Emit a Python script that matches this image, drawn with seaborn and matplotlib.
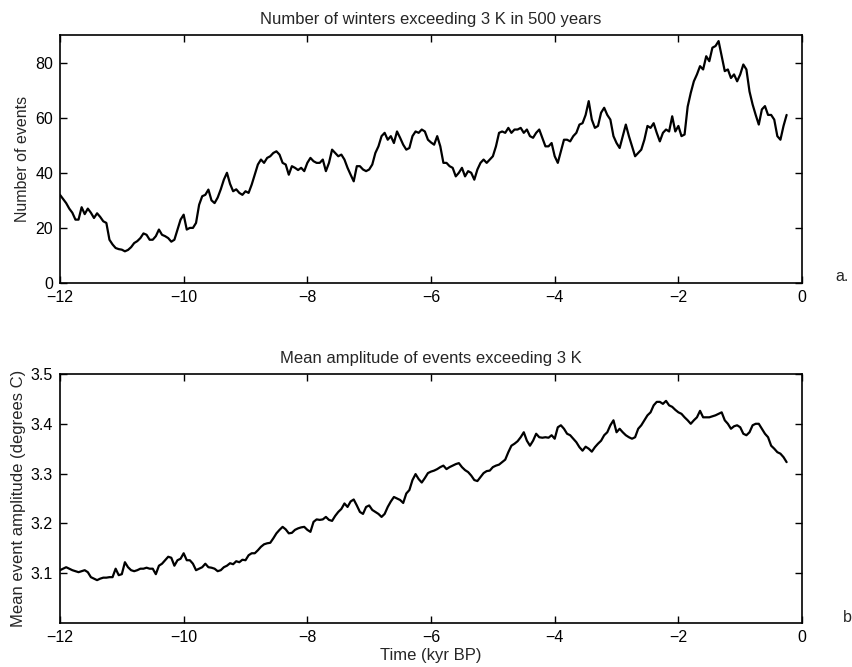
import numpy as np
import pandas as pd
import seaborn as sns
import matplotlib
matplotlib.use("Agg")
import matplotlib.pyplot as plt

# values, every 0.05 kyr from -12 kyr BP
events_a = [
    32, 30.5, 29, 27, 25.5, 23, 23, 27.5, 25, 27, 25.5, 23.6, 25.3, 24, 22.4, 21.8,
    15.7, 14, 12.7, 12.3, 12.1, 11.5, 12, 13, 14.5, 15.2, 16.3, 18, 17.5, 15.7,
    15.7, 17, 19.4, 17.5, 17, 16.3, 15, 15.7, 19.4, 23, 24.8, 19.4, 20, 20, 21.8,
    28.4, 31.5, 32, 33.9, 30, 29, 31, 34, 37.5, 40, 36, 33.3, 34, 32.7, 32, 33.3,
    32.7, 35.7, 39.3, 43, 44.8, 43.6, 45.4, 46, 47.2, 47.8, 46.6, 43.6, 43, 39.3,
    42.4, 41.8, 41, 41.8, 40.6, 43.6, 45.4, 44.2, 43.6, 43.6, 44.8, 40.6, 43.6,
    48.4, 47.2, 46, 46.6, 44.8, 41.8, 39.3, 36.9, 42.4, 42.4, 41.2, 40.6, 41.2,
    43, 47.2, 49.6, 53.3, 54.5, 52, 53.3, 50.8, 55, 52.7, 50.2, 48.4, 49, 53.3,
    55, 54.5, 55.7, 55, 52, 51,
    50.2, 53.3, 49.6, 43.6, 43.6, 42.4, 41.8, 38.7, 40, 41.8, 38.7, 40.6, 40,
    37.5, 41.2, 43.6, 44.8, 43.6, 44.8, 46, 49.6, 54.5, 55, 54.5, 56.3, 54.5,
    55.7, 55.7, 56.3, 54.5, 55.7, 53.3, 52.7, 54.5, 55.7, 52.7, 49.6, 49.6, 50.8,
    46, 43.6, 47.8, 52, 52, 51.4, 53.3, 54.5, 57.5, 58, 61, 66, 59.3, 56.3, 57,
    61.8, 63.6, 61, 59.3, 53.3, 50.8, 49, 53.3, 57.5, 53.3, 49.6, 46, 47.2, 48.4,
    52, 57, 56.3, 58, 54.5, 51.4, 54.5, 55.7, 55, 60.5, 55, 57, 53.3, 53.9, 64,
    69, 73.2, 75.7, 78.7, 77.5, 82.3, 80.5, 85.4, 86, 87.8, 82.3, 76.9, 77.5,
    74.4, 75.7, 73.2, 75.7, 79.3, 77.5, 69.5, 64.8, 61, 57.5, 63, 64.2, 61, 61,
    59.3, 53.3, 52, 57, 61,
]

amplitude_b = [
    3.106, 3.109, 3.112, 3.109, 3.106, 3.104, 3.102, 3.104, 3.106, 3.102, 3.092,
    3.089, 3.086, 3.089, 3.091, 3.091, 3.092, 3.092, 3.109, 3.096, 3.098, 3.122,
    3.112, 3.106, 3.104, 3.106, 3.109, 3.109, 3.111, 3.109, 3.109, 3.098, 3.115,
    3.119, 3.126, 3.133, 3.131, 3.115, 3.126, 3.129, 3.140, 3.126, 3.126, 3.119,
    3.106, 3.109, 3.112, 3.119, 3.112, 3.111, 3.109, 3.104, 3.106, 3.112, 3.115,
    3.120, 3.118, 3.124, 3.122, 3.127, 3.126, 3.136, 3.140, 3.140, 3.146, 3.153,
    3.158, 3.160, 3.161, 3.170, 3.180, 3.187, 3.193, 3.188, 3.180, 3.181, 3.187,
    3.190, 3.192, 3.193, 3.187, 3.183, 3.203, 3.208, 3.207, 3.208, 3.213, 3.207,
    3.205, 3.215, 3.223, 3.229, 3.240, 3.233, 3.244, 3.248, 3.236, 3.223, 3.219,
    3.233, 3.236, 3.227, 3.223, 3.219, 3.213, 3.219, 3.233, 3.244, 3.253, 3.250,
    3.247, 3.241, 3.260, 3.267, 3.287, 3.299, 3.289, 3.282, 3.291, 3.301, 3.304,
    3.306, 3.309, 3.313, 3.316, 3.309, 3.313, 3.316, 3.319, 3.321, 3.313, 3.307,
    3.303, 3.296, 3.287, 3.285, 3.293, 3.301, 3.305, 3.306, 3.313, 3.316, 3.318,
    3.323, 3.328, 3.343, 3.356, 3.360, 3.365, 3.373, 3.383, 3.366, 3.356, 3.366,
    3.380, 3.373, 3.372, 3.373, 3.372, 3.377, 3.370, 3.393, 3.397, 3.390, 3.380,
    3.377, 3.370, 3.363, 3.353, 3.346, 3.354, 3.350, 3.344, 3.353, 3.360, 3.366,
    3.377, 3.383, 3.397, 3.407, 3.383, 3.390, 3.383, 3.377, 3.373, 3.370, 3.373,
    3.390, 3.397, 3.407, 3.417, 3.423, 3.437, 3.444, 3.444, 3.440, 3.446, 3.437,
    3.434, 3.428, 3.423, 3.420, 3.413, 3.407, 3.400, 3.407, 3.413, 3.426, 3.413,
    3.413, 3.413, 3.415, 3.417, 3.420, 3.423, 3.407, 3.400, 3.390, 3.395, 3.397,
    3.393, 3.380, 3.377, 3.383, 3.397, 3.400, 3.400, 3.390, 3.380, 3.373, 3.356,
    3.350, 3.343, 3.340, 3.333, 3.323,
]

time_a = np.round(-12 + 0.05 * np.arange(len(events_a)), 2)
time_b = np.round(-12 + 0.05 * np.arange(len(amplitude_b)), 2)
df_a = pd.DataFrame({"time": time_a, "events": events_a})
df_b = pd.DataFrame({"time": time_b, "amp": amplitude_b})

sns.set_style("ticks")
plt.rcParams['font.family'] = ['Liberation Sans', 'DejaVu Sans']

fig = plt.figure(figsize=(8.52, 6.67), dpi=100)
ax1 = fig.add_axes([0.0704, 0.5757, 0.871, 0.3718])
ax2 = fig.add_axes([0.0704, 0.066, 0.871, 0.3733])

sns.lineplot(data=df_a, x="time", y="events", ax=ax1, color="black", linewidth=1.6)
sns.lineplot(data=df_b, x="time", y="amp", ax=ax2, color="black", linewidth=1.6)

for ax in (ax1, ax2):
    ax.set_xlim(-12, 0)
    ax.set_xticks([-12, -10, -8, -6, -4, -2, 0])
    ax.set_xticklabels(["\u221212", "\u221210", "\u22128", "\u22126", "\u22124", "\u22122", "0"])
    ax.tick_params(direction="in", top=True, right=True, length=5, width=1,
                   labelsize=11.5, colors="black", pad=5)
    for s in ax.spines.values():
        s.set_color("black")
        s.set_linewidth(1.2)

ax1.set_ylim(0, 90)
ax1.set_yticks([0, 20, 40, 60, 80])
ax1.set_title("Number of winters exceeding 3 K in 500 years", fontsize=12, pad=8)
ax1.set_xlabel("")
ax1.set_ylabel("Number of events", fontsize=11.5)

ax2.set_ylim(3.0, 3.5)
ax2.set_yticks([3.1, 3.2, 3.3, 3.4, 3.5])
ax2.set_title("Mean amplitude of events exceeding 3 K", fontsize=12, pad=8)
ax2.set_xlabel("Time (kyr BP)", fontsize=12, labelpad=2)
ax2.set_ylabel("Mean event amplitude (degrees C)", fontsize=12, labelpad=3)

fig.text(0.988, 0.585, "a.", fontsize=11.5, ha="center", va="center")
fig.text(0.994, 0.074, "b", fontsize=11.5, ha="center", va="center")

fig.savefig("out.png", dpi=100)
